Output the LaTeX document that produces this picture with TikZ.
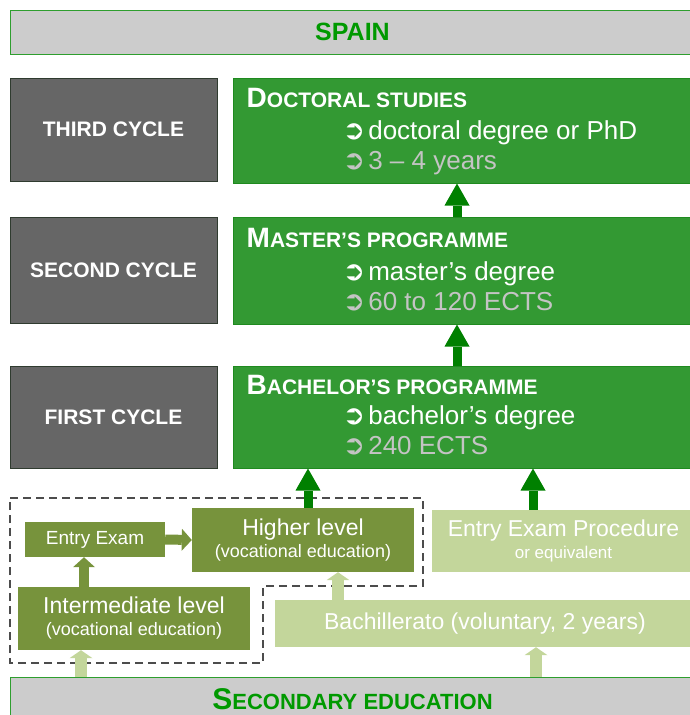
\documentclass[tikz,border=0pt]{standalone}
\usepackage{fontspec}
\setmainfont{Liberation Sans}
\newfontfamily\symfont{DejaVu Sans}
\usetikzlibrary{arrows.meta}
\usetikzlibrary{positioning}
\definecolor{cycgrey}{HTML}{666666}
\definecolor{cycline}{HTML}{2F3B2F}
\definecolor{mgreen}{HTML}{339933}
\definecolor{mgreenline}{HTML}{1F8A1F}
\definecolor{darrow}{HTML}{008000}
\definecolor{olive}{HTML}{77933C}
\definecolor{paleolive}{HTML}{C3D69B}
\definecolor{bannergrey}{HTML}{CCCCCC}
\definecolor{bannerline}{HTML}{2E9E2E}
\definecolor{bannertext}{HTML}{009900}
\definecolor{notegrey}{HTML}{C4C4C4}
\newcommand{\fakesc}[4]{{\fontsize{#1}{#1}\selectfont #3}{\fontsize{#2}{#2}\selectfont #4}}
\newcommand{\itm}{{\symfont\fontsize{27}{27}\selectfont ➲}\hspace{3pt}}
\tikzset{banner/.style = {draw = bannerline, fill = bannergrey, line width = 1pt, text = bannertext, font = \bfseries}}
\tikzset{cyc/.style = {draw = cycline, fill = cycgrey, line width = 1pt, text = white, font = \fontsize{21}{21}\selectfont\bfseries}}
\tikzset{prog/.style = {draw = mgreenline, fill = mgreen, line width = 1pt, minimum width = 462pt}}
\tikzset{head/.style = {text = white, inner sep = 0, anchor = base west, font = \bfseries}}
\tikzset{item/.style = {text = white, inner sep = 0, anchor = base west, font = \fontsize{26}{26}\selectfont}}
\tikzset{note/.style = {text = notegrey, inner sep = 0, anchor = base west, font = \fontsize{26}{26}\selectfont}}
\tikzset{vocbox/.style = {fill = olive, text = white, align = center, font = \fontsize{23}{22}\selectfont}}
\tikzset{palebox/.style = {fill = paleolive, text = white, align = center, font = \fontsize{23}{22}\selectfont}}
\tikzset{garrow/.style = {darrow, line width = 9pt, -{Triangle[width = 25pt, length = 22pt, line width = 0pt]}}}
\tikzset{oarrow/.style = {olive, line width = 10pt, -{Triangle[width = 22pt, length = 10pt, line width = 0pt]}}}
\tikzset{larrow/.style = {paleolive, line width = 12pt, -{Triangle[width = 23pt, length = 8pt, line width = 0pt]}}}
\tikzset{dashbox/.style = {draw = black!70, line width = 1.5pt, dash pattern = on 8pt off 5pt}}

\begin{document}
\begin{tikzpicture}[x = 1pt, y = -1pt]
    \useasboundingbox (0, 0) rectangle (689, 715);

    \node [banner, minimum width = 685pt, minimum height = 44pt, font = \fontsize{25}{25}\selectfont\bfseries] (spain) at (352.5, 32) {SPAIN};

    % cycles
    \node [cyc, minimum width = 207pt, minimum height = 103pt] (third) at (113.5, 129.5) {THIRD CYCLE};
    \node [cyc, minimum width = 207pt, minimum height = 106pt] (second) at (113.5, 270) {SECOND CYCLE};
    \node [cyc, minimum width = 207pt, minimum height = 102pt] (first) at (113.5, 417) {FIRST CYCLE};

    % programmes
    \node [prog, minimum height = 105pt] (doct) at (464, 130.5) {};
    \node [head] (docthead) at ([xshift = 14pt, yshift = -30pt] doct.north west) {\fakesc{28}{21}{D}{OCTORAL STUDIES}};
    \node [item] (doctitem) at ([xshift = 110pt, yshift = -62pt] doct.north west) {\itm doctoral degree or PhD};
    \node [note] (doctnote) at ([xshift = 110pt, yshift = -92pt] doct.north west) {\itm 3 -- 4 years};

    \node [prog, minimum height = 107pt] (mast) at (464, 270.5) {};
    \node [head] (masthead) at ([xshift = 14pt, yshift = -31pt] mast.north west) {\fakesc{28}{21}{M}{ASTER'S PROGRAMME}};
    \node [item] (mastitem) at ([xshift = 110pt, yshift = -64pt] mast.north west) {\itm master's degree};
    \node [note] (mastnote) at ([xshift = 110pt, yshift = -94pt] mast.north west) {\itm 60 to 120 ECTS};

    \node [prog, minimum height = 102pt] (bach) at (464, 417) {};
    \node [head] (bachhead) at ([xshift = 14pt, yshift = -29pt] bach.north west) {\fakesc{28}{21}{B}{ACHELOR'S PROGRAMME}};
    \node [item] (bachitem) at ([xshift = 110pt, yshift = -59pt] bach.north west) {\itm bachelor's degree};
    \node [note] (bachnote) at ([xshift = 110pt, yshift = -89pt] bach.north west) {\itm 240 ECTS};

    % access routes
    \draw [dashbox] (10, 498) -- (423, 498) -- (423, 586) -- (263, 586) -- (263, 663) -- (10, 663) -- cycle;

    \node [vocbox, minimum width = 140pt, minimum height = 35pt, font = \fontsize{19}{19}\selectfont] (entry) at (95, 539.5) {Entry Exam};
    \node [vocbox, minimum width = 222pt, minimum height = 64pt] (higher) at (303, 540) {Higher level\\{\fontsize{18}{18}\selectfont (vocational education)}};
    \node [vocbox, minimum width = 232pt, minimum height = 63pt] (inter) at (134, 618.5) {Intermediate level\\{\fontsize{18}{18}\selectfont (vocational education)}};
    \node [palebox, minimum width = 263pt, minimum height = 62pt] (eep) at (563.5, 541) {Entry Exam Procedure\\{\fontsize{17}{17}\selectfont or equivalent}};
    \node [palebox, minimum width = 420pt, minimum height = 47pt] (bachi) at (485, 623.5) {Bachillerato (voluntary, 2 years)};

    \node [banner, minimum width = 685pt, minimum height = 44pt] (sec) at (352.5, 699) {\fakesc{30}{22}{S}{ECONDARY EDUCATION}};

    % arrows
    \coordinate (colA) at (457, 0);
    \coordinate (colB) at (308, 0);
    \coordinate (colC) at (533, 0);
    \coordinate (colD) at (84, 0);
    \coordinate (colE) at (81, 0);
    \coordinate (colF) at (338, 0);
    \coordinate (colG) at (536, 0);

    \draw [garrow] (mast.north -| colA) -- (doct.south -| colA);
    \draw [garrow] (bach.north -| colA) -- (mast.south -| colA);
    \draw [garrow] (higher.north -| colB) -- (bach.south -| colB);
    \draw [garrow] (eep.north -| colC) -- (bach.south -| colC);

    \draw [oarrow] (entry.east) -- (higher.west);
    \draw [oarrow] (inter.north -| colD) -- (entry.south -| colD);

    \draw [larrow] (sec.north -| colE) -- (inter.south -| colE);
    \draw [larrow] (sec.north -| colG) -- (bachi.south -| colG);
    \draw [larrow] (bachi.north -| colF) -- (higher.south -| colF);
\end{tikzpicture}
\end{document}
